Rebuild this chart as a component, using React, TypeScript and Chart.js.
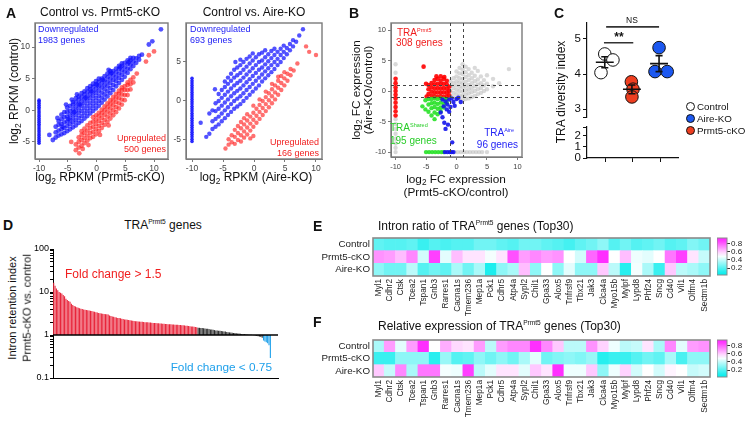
import React, { useEffect, useRef } from "react";
import { Chart, registerables } from "chart.js";

Chart.register(...registerables);
const FONT = "'Liberation Sans', Arial, Helvetica, sans-serif";
Chart.defaults.font.family = FONT;
Chart.defaults.color = "#333";

type Cols = [number, number[]][];

// ---------------- Panel A: Control vs. Prmt5-cKO ----------------
const a1DownCols: Cols = [
  [-7.6, [-4.7]],
  [-7.1, [-4.3, -3.5, -2.6]],
  [-6.6, [-4.0, -3.2, -2.3, -1.7]],
  [-6.1, [-3.8, -3.0, -2.2, -1.4, -0.7]],
  [-5.6, [-3.6, -2.8, -1.9, -1.1, -0.3]],
  [-5.1, [-3.3, -2.5, -1.8, -1.0, -0.3, 0.4]],
  [-4.6, [-3.0, -2.2, -1.5, -0.8, -0.1, 0.7]],
  [-4.1, [-2.7, -1.9, -1.2, -0.5, 0.2, 0.9, 1.3]],
  [-3.6, [-2.4, -1.6, -0.8, -0.1, 0.6, 1.3, 1.9]],
  [-3.1, [-2.0, -1.2, -0.4, 0.3, 1.0, 1.7, 2.2]],
  [-2.6, [-1.7, -0.9, -0.1, 0.7, 1.4, 2.1, 2.7]],
  [-2.1, [-1.3, -0.5, 0.3, 1.1, 1.8, 2.5, 3.0]],
  [-1.6, [-0.9, -0.1, 0.7, 1.5, 2.2, 2.9, 3.5]],
  [-1.1, [-0.5, 0.3, 1.1, 1.9, 2.6, 3.3, 3.8]],
  [-0.6, [-0.1, 0.7, 1.5, 2.3, 3.0, 3.7, 4.2]],
  [-0.1, [0.3, 1.1, 1.9, 2.7, 3.4, 4.1, 4.6]],
  [0.4, [0.7, 1.5, 2.3, 3.1, 3.8, 4.5, 5.0]],
  [0.9, [1.2, 2.0, 2.8, 3.6, 4.3, 5.0]],
  [1.4, [1.7, 2.5, 3.3, 4.0, 4.7, 5.4]],
  [1.9, [2.2, 3.0, 3.8, 4.5, 5.2, 5.8]],
  [2.4, [2.7, 3.5, 4.3, 5.0, 5.7, 6.2]],
  [2.9, [3.2, 4.0, 4.8, 5.5, 6.2]],
  [3.4, [3.8, 4.6, 5.3, 6.0, 6.6]],
  [3.9, [4.3, 5.1, 5.8, 6.5, 7.0]],
  [4.4, [4.8, 5.6, 6.3, 7.0, 7.4]],
  [4.9, [5.3, 6.1, 6.8, 7.5]],
  [5.4, [5.9, 6.6, 7.3, 7.9]],
  [5.9, [6.5, 7.2, 7.9, 8.3]],
  [6.4, [7.0, 7.7, 8.3]],
  [6.9, [7.5, 8.2]],
  [7.4, [8.0, 8.6]],
];
const a1DownExtra: number[][] = [
  [-8.2, -3.9], [-6.8, -1.2], [-5.3, 0.9], [-4.3, 1.7], [-3.4, 2.5], [2.1, 6.4],
  [-5.9, -2.6], [-4.9, -1.4], [-3.9, -0.3], [-2.9, 0.9], [-1.9, 2.0], [-0.9, 3.0],
  [0.1, 4.0], [1.1, 4.8], [2.6, 5.9], [4.1, 6.8], [5.6, 7.6],
  [7.9, 8.8], [9.1, 10.4], [9.7, 10.9], [11.2, 12.8],
];
const a1UpCols: Cols = [
  [-3.6, [-6.3, -5.4]],
  [-3.1, [-5.9, -5.0, -4.3]],
  [-2.6, [-5.6, -4.7, -3.9, -3.3]],
  [-2.1, [-5.2, -4.4, -3.6, -2.9]],
  [-1.6, [-4.8, -4.0, -3.2, -2.4]],
  [-1.1, [-4.4, -3.6, -2.8, -2.0]],
  [-0.6, [-4.2, -3.4, -2.6, -1.8, -1.1]],
  [-0.1, [-3.8, -3.0, -2.2, -1.5, -0.8]],
  [0.4, [-3.3, -2.5, -1.7, -1.0, -0.4]],
  [0.9, [-2.8, -2.0, -1.2, -0.5, 0.1]],
  [1.4, [-2.3, -1.5, -0.7, 0.0, 0.6]],
  [1.9, [-1.8, -1.0, -0.2, 0.5, 1.1]],
  [2.4, [-1.3, -0.5, 0.3, 1.0, 1.6]],
  [2.9, [-0.8, 0.0, 0.8, 1.5, 2.1]],
  [3.4, [-0.3, 0.5, 1.3, 2.0, 2.6]],
  [3.9, [0.3, 1.1, 1.9, 2.6, 3.1]],
  [4.4, [0.9, 1.7, 2.5, 3.2, 3.6]],
  [4.9, [1.6, 2.4, 3.2, 3.8]],
  [5.4, [2.4, 3.2, 4.0, 4.4]],
  [5.9, [3.3, 4.1, 4.8]],
  [6.4, [4.4, 5.2]],
];
const a1UpExtra: number[][] = [
  [-4.4, -5.0], [-3.0, -6.8], [-2.4, -6.1], [-1.4, -5.5], [0.6, -3.9], [2.1, -2.4],
  [7.0, 5.8], [8.6, 7.7], [9.1, 8.7], [10.0, 9.3],
];
const a1Strip: number[] = [
  -5.2, -4.9, -4.6, -4.3, -4.0, -3.7, -3.4, -3.1, -2.8, -2.5, -2.2, -1.9,
  -1.6, -1.3, -1.0, -0.7, -0.4, -0.1, 0.2, 0.5, 0.8, 1.1, 1.4, 1.6,
];

// ---------------- Panel A: Control vs. Aire-KO ----------------
const a2DownCols: Cols = [
  [-7.7, [-4.6]],
  [-7.2, [-4.2, -1.6]],
  [-6.7, [-3.6, -2.6, -1.2]],
  [-6.2, [-3.3, -2.3, -1.3, -0.3]],
  [-5.7, [-3.0, -2.0, -1.0, 0.0, 0.9]],
  [-5.2, [-2.6, -1.6, -0.6, 0.4, 1.4]],
  [-4.7, [-2.2, -1.2, -0.2, 0.8, 1.8, 2.5]],
  [-4.2, [-1.8, -0.8, 0.2, 1.2, 2.2, 3.0]],
  [-3.7, [-1.4, -0.4, 0.6, 1.6, 2.6, 3.5]],
  [-3.2, [-1.0, 0.0, 1.0, 2.0, 3.0, 4.0]],
  [-2.7, [-0.7, 0.3, 1.3, 2.3, 3.3, 4.3]],
  [-2.2, [-0.4, 0.6, 1.6, 2.6, 3.6, 4.6, 5.3]],
  [-1.7, [0.0, 1.0, 2.0, 3.0, 4.0, 5.0]],
  [-1.2, [0.4, 1.4, 2.4, 3.4, 4.4, 5.4]],
  [-0.7, [0.8, 1.8, 2.8, 3.8, 4.8, 5.7]],
  [-0.2, [1.2, 2.2, 3.2, 4.2, 5.2, 6.1]],
  [0.3, [1.6, 2.6, 3.6, 4.6, 5.6]],
  [0.8, [2.0, 3.0, 4.0, 5.0, 6.0]],
  [1.3, [2.5, 3.4, 4.3, 5.2, 6.2]],
  [1.8, [2.9, 3.8, 4.7, 5.6, 6.5]],
  [2.3, [3.3, 4.2, 5.1, 6.0]],
  [2.8, [3.7, 4.6, 5.5, 6.4]],
  [3.3, [4.1, 5.0, 5.9, 6.7]],
  [3.8, [4.6, 5.4, 6.3]],
  [4.3, [5.0, 5.9, 6.7]],
  [4.8, [5.5, 6.3, 7.1]],
  [5.3, [6.0, 6.8]],
  [5.8, [6.5, 7.3]],
  [6.3, [7.0, 7.8]],
  [6.8, [7.6]],
];
const a2DownExtra: number[][] = [
  [7.9, 9.2], [7.3, 8.4], [-8.6, -2.8], [-6.3, 1.5], [-3.0, 5.0],
];
const a2UpCols: Cols = [
  [-4.6, [-6.1]],
  [-4.1, [-5.6, -4.9]],
  [-3.6, [-5.3, -4.4]],
  [-3.1, [-5.5, -4.6, -3.7]],
  [-2.6, [-5.0, -4.1, -3.2]],
  [-2.1, [-5.2, -4.4, -3.5, -2.7]],
  [-1.6, [-4.7, -3.9, -3.0, -2.2]],
  [-1.1, [-4.3, -3.4, -2.5, -1.7]],
  [-0.6, [-4.8, -3.8, -2.9, -2.0]],
  [-0.1, [-4.5, -3.3, -2.4, -1.5, -0.6]],
  [0.4, [-2.8, -1.9, -1.0]],
  [0.9, [-2.3, -1.4, -0.5, 0.2]],
  [1.4, [-1.8, -0.9, 0.0]],
  [1.9, [-1.3, -0.4, 0.5, 1.2]],
  [2.4, [-0.8, 0.1, 1.0]],
  [2.9, [-0.3, 0.6, 1.5, 2.2]],
  [3.4, [0.2, 1.1, 2.0]],
  [3.9, [0.8, 1.7, 2.6, 3.1]],
  [4.4, [1.4, 2.3, 3.2]],
  [4.9, [2.0, 2.9, 3.7]],
  [5.4, [2.6, 3.5]],
  [5.9, [3.3, 4.1]],
  [6.4, [3.9]],
];
const a2UpExtra: number[][] = [[8.4, 7.0], [8.9, 6.3], [10.0, 5.9], [7.0, 4.8]];
const a2Strip: number[] = [
  -5.2, -4.9, -4.6, -4.3, -4.0, -3.7, -3.4, -3.1, -2.8, -2.5, -2.2, -1.9, -1.6, -1.3,
  -1.0, -0.7, -0.4, -0.1, 0.2, 0.5, 0.8, 1.1, 1.4, 1.7, 2.0, 2.3, 2.6, 2.9,
];

// ---------------- Panel B ----------------
const bGrayCols: Cols = [
  [-1.0, [-0.8, 0.0, 0.8, 1.6]],
  [-0.5, [-1.0, -0.3, 0.5, 1.3, 2.1]],
  [0.0, [-1.2, -0.5, 0.2, 0.9, 1.6, 2.4, 3.2]],
  [0.5, [-1.4, -0.7, 0.0, 0.7, 1.4, 2.1, 2.9, 3.8]],
  [1.0, [-1.5, -0.8, -0.1, 0.6, 1.3, 2.0, 2.8, 3.5, 4.4]],
  [1.5, [-1.3, -0.6, 0.1, 0.8, 1.5, 2.3, 3.1, 4.0]],
  [2.0, [-1.2, -0.4, 0.3, 1.0, 1.8, 2.6, 3.6]],
  [2.5, [-1.0, -0.2, 0.5, 1.3, 2.1, 3.0]],
  [3.0, [-0.8, 0.0, 0.8, 1.6, 2.5, 3.8]],
  [3.5, [-0.5, 0.3, 1.1, 1.9, 3.3]],
  [4.0, [-0.3, 0.5, 1.3, 2.4]],
  [4.5, [0.0, 0.9, 1.8]],
  [5.0, [0.3, 1.2, 2.6]],
  [6.0, [0.8, 2.0]],
  [7.0, [1.3]],
  [8.6, [3.6]],
];
const bGrayStrip: number[] = [4.4, 3.0, -4.6, -5.4, -6.2, -7.0, -7.8, -8.6, -9.3, -10];
const bGrayFloor: number[] = [-0.3, 0.2, 0.7, 1.2, 1.7, 2.2, 2.7, 3.2, 3.7, 4.2, 5.0];
const bRedCols: Cols = [
  [-4.6, [-0.5, 0.3, 1.0]],
  [-4.1, [-0.8, -0.1, 0.6, 1.3]],
  [-3.6, [-1.0, -0.3, 0.4, 1.1, 1.8]],
  [-3.1, [-0.9, -0.2, 0.5, 1.2, 2.0]],
  [-2.6, [-1.0, -0.3, 0.4, 1.1, 1.7, 2.4]],
  [-2.1, [-0.9, -0.2, 0.5, 1.2, 2.0]],
  [-1.6, [-1.0, -0.3, 0.4, 1.1, 1.7]],
  [-1.2, [-0.7, 0.0, 0.7]],
];
const bRedExtra: number[][] = [[-5.4, 4.0], [-5.0, 1.2], [-3.3, 2.4], [-2.0, 2.3], [-4.9, -0.9]];
const bRedStrip: number[] = [2.0, 1.3, 0.6, 0.0, -0.6, -1.2, -1.9, -2.6, -3.3, -4.0];
const bGreenCols: Cols = [
  [-5.6, [-2.5]],
  [-5.1, [-1.5, -3.0]],
  [-4.6, [-1.3, -2.2, -3.4]],
  [-4.1, [-1.3, -2.0, -2.8, -4.0]],
  [-3.6, [-1.2, -1.9, -2.6, -3.5, -4.6]],
  [-3.1, [-1.3, -2.1, -2.9, -3.8]],
  [-2.6, [-1.2, -1.9, -2.7, -3.3]],
  [-2.1, [-1.3, -2.1, -2.7]],
  [-1.6, [-1.3, -1.9]],
];
const bGreenFloor: number[] = [-5.0, -4.5, -4.0, -3.5, -3.0, -2.5, -2.1];
const bBluePts: number[][] = [
  [-2.3, -1.4], [-1.8, -1.7], [-1.5, -2.2], [-1.2, -1.4], [-0.8, -1.2], [-0.5, -1.8],
  [0.0, -1.3], [0.3, -1.1], [0.7, -1.8], [-1.0, -2.6], [-1.6, -3.0], [-2.1, -2.5],
  [-2.6, -3.5], [-2.3, -4.3], [-2.0, -5.2], [-1.8, -6.2], [-1.4, -5.5], [-0.7, -8.4],
  [-1.2, -3.4], [-0.3, -2.4],
];
const bBlueFloor: number[] = [-1.9, -1.5, -1.1, -0.8, -0.5];
const bVLines = [-1, 1];
const bHLines = [-1, 1];

// ---------------- Panel C ----------------
const cNames = ["Control", "Prmt5-cKO", "Aire-KO"];
const cLegendOrder = [0, 2, 1];
const cCenters = [1, 2, 3];
const cValues = [
  [4.57, 4.4, 4.04],
  [3.78, 3.57, 3.35],
  [4.75, 4.07, 4.07],
];
const cJitterX = [
  [1.0, 1.3, 0.86],
  [1.98, 2.04, 2.0],
  [3.0, 2.85, 3.3],
];
const cFills = ["#ffffff", "rgb(238,62,32)", "rgb(28,88,240)"];
const cSig = [
  { x1: 0.97, x2: 2.05, y: 4.89 },
  { x1: 1.05, x2: 3.0, y: 5.34 },
];

// ---------------- Panel D ----------------
const dVals: number[] = [
  16.5, 14, 12, 11, 10, 9.6, 9.2, 8.5, 8, 7,
  6.5, 6.2, 5.9, 5.3, 5, 4.7, 4.6, 4.4, 4.3, 4.2,
  4.1, 4.0, 3.9, 3.85, 3.8, 3.75, 3.7, 3.65, 3.6, 3.5,
  3.45, 3.4, 3.35, 3.25, 3.2, 3.15, 3.1, 3.08, 3.05, 3.02,
  3.0, 2.85, 2.75, 2.7, 2.65, 2.6, 2.55, 2.5, 2.48, 2.45,
  2.4, 2.35, 2.3, 2.28, 2.25, 2.22, 2.2, 2.18, 2.15, 2.12,
  2.1, 2.08, 2.06, 2.05, 2.04, 2.02, 2.0, 1.99, 1.98, 1.97,
  1.96, 1.94, 1.92, 1.91, 1.9, 1.89, 1.88, 1.87, 1.85, 1.84,
  1.83, 1.82, 1.81, 1.8, 1.79, 1.78, 1.77, 1.76, 1.75, 1.74,
  1.73, 1.72, 1.71, 1.7, 1.69, 1.68, 1.67, 1.65, 1.64, 1.62,
  1.6, 1.58, 1.57, 1.55, 1.53, 1.51,
  1.48, 1.47, 1.46, 1.45, 1.43, 1.42, 1.4, 1.39, 1.37, 1.35,
  1.34, 1.32, 1.3, 1.28, 1.27, 1.26, 1.25, 1.24, 1.22, 1.21,
  1.2, 1.18, 1.16, 1.15, 1.14, 1.13, 1.12, 1.11, 1.1, 1.09,
  1.08, 1.07, 1.06, 1.05, 1.05, 1.04, 1.03, 1.02, 1.02, 1.01,
  1.0, 0.99, 0.97, 0.95, 0.93, 0.92, 0.9, 0.86,
  0.74, 0.71, 0.68, 0.64, 0.58, 0.29,
];
const dBase = 1;
const dUp = 1.5;
const dDown = 0.75;

// ---------------- Panels E / F ----------------
const genes = [
  "Myl1", "Cdhr2", "Ctsk", "Tcea2", "Tspan1", "Gnb3", "Rarres1", "Cacna1s", "Tmem236", "Mep1a",
  "Pck1", "Cdhr5", "Atp4a", "Sypl2", "Chil1", "Gpa33", "Alox5", "Tnfrsf9", "Tbx21", "Jak3",
  "Clca4a", "Myo15b", "Mylpf", "Lypd8", "Phf24", "Sncg", "Cd40", "Vil1", "Olfm4", "Sectm1b",
];
const rowNames = ["Control", "Prmt5-cKO", "Aire-KO"];
const eControl = [0.22, 0.2, 0.2, 0.22, 0.15, 0.2, 0.18, 0.2, 0.2, 0.25, 0.25, 0.22, 0.2, 0.25, 0.25, 0.22, 0.2, 0.17, 0.22, 0.25, 0.3, 0.2, 0.25, 0.2, 0.22, 0.25, 0.2, 0.22, 0.28, 0.25];
const ePrmt5 = [0.7, 0.68, 0.62, 0.72, 0.42, 0.85, 0.45, 0.62, 0.55, 0.55, 0.48, 0.55, 0.82, 0.68, 0.72, 0.68, 0.7, 0.5, 0.42, 0.78, 0.88, 0.5, 0.62, 0.47, 0.45, 0.5, 0.75, 0.85, 0.55, 0.4];
const eAire = [0.3, 0.25, 0.25, 0.38, 0.2, 0.25, 0.22, 0.35, 0.25, 0.35, 0.1, 0.3, 0.35, 0.62, 0.3, 0.5, 0.3, 0.45, 0.3, 0.3, 0.6, 0.38, 0.12, 0.48, 0.35, 0.15, 0.6, 0.38, 0.35, 0.3];
const fControl = [0.35, 0.68, 0.45, 0.68, 0.88, 0.5, 0.65, 0.57, 0.55, 0.68, 0.38, 0.68, 0.72, 0.72, 0.88, 0.72, 0.6, 0.38, 0.38, 0.7, 0.58, 0.47, 0.38, 0.4, 0.55, 0.35, 0.72, 0.45, 0.68, 0.7];
const fPrmt5 = [0.15, 0.15, 0.3, 0.3, 0.3, 0.12, 0.32, 0.2, 0.22, 0.3, 0.25, 0.3, 0.25, 0.35, 0.45, 0.25, 0.28, 0.3, 0.28, 0.32, 0.12, 0.15, 0.15, 0.2, 0.25, 0.22, 0.35, 0.18, 0.3, 0.3];
const fAire = [0.6, 0.4, 0.72, 0.35, 0.75, 0.75, 0.48, 0.47, 0.85, 0.38, 0.45, 0.55, 0.55, 0.45, 0.6, 0.55, 0.88, 0.47, 0.47, 0.6, 0.3, 0.47, 0.58, 0.42, 0.5, 0.42, 0.52, 0.5, 0.4, 0.42];
const cbRange = [0.03, 0.93];
const cbTicks = [0.2, 0.4, 0.6, 0.8];

// ---------------- helpers ----------------
const fromCols = (cols: Cols) => cols.flatMap(([x, ys]) => ys.map((y) => ({ x, y })));
const fromPairs = (p: number[][]) => p.map(([x, y]) => ({ x, y }));
const atX = (x: number, ys: number[]) => ys.map((y) => ({ x, y }));
const atY = (y: number, xs: number[]) => xs.map((x) => ({ x, y }));
const fixedTicks = (vals: number[]) => (s: any) => {
  s.ticks = vals.map((v) => ({ value: v }));
};

const CYAN = [0, 236, 236];
const WHITE = [255, 255, 255];
const MAG = [255, 36, 255];
const mix = (a: number[], b: number[], t: number) => a.map((v, i) => Math.round(v + (b[i] - v) * t));
function heatColor(v: number) {
  let c: number[];
  if (v <= 0.5) c = mix(CYAN, WHITE, Math.max(0, Math.min(1, (v - 0.05) / 0.45)));
  else c = mix(WHITE, MAG, Math.max(0, Math.min(1, (v - 0.5) / 0.4)));
  return `rgb(${c[0]},${c[1]},${c[2]})`;
}

const frame = (color: string, width: number) => ({
  id: "frame",
  afterDatasetsDraw(chart: any) {
    const { ctx, chartArea: a } = chart;
    ctx.save();
    ctx.strokeStyle = color;
    ctx.lineWidth = width;
    ctx.strokeRect(a.left, a.top, a.right - a.left, a.bottom - a.top);
    ctx.restore();
  },
});

const dots = (data: any[], color: string, r: number, order: number) => ({
  data,
  pointRadius: r,
  pointBackgroundColor: color,
  pointBorderWidth: 0,
  pointBorderColor: "rgba(0,0,0,0)",
  showLine: false,
  order,
});

const seg = (pts: { x: number; y: number }[], color: string, w: number) => ({
  data: pts,
  showLine: true,
  borderColor: color,
  borderWidth: w,
  pointRadius: 0,
  order: 0,
});

const baseOpts = () => ({
  events: [],
  plugins: { legend: { display: false }, tooltip: { enabled: false } },
});

function scatterCfg(
  datasets: any[],
  xr: number[],
  yr: number[],
  xt: number[],
  yt: number[],
  o: { yw: number; xh: number; font: number; frameColor: string; extra?: any[] }
) {
  const ax = (horizontal: boolean, r: number[], t: number[]) => ({
    type: "linear",
    min: r[0],
    max: r[1],
    afterBuildTicks: fixedTicks(t),
    afterFit: (s: any) => {
      if (horizontal) s.height = o.xh;
      else s.width = o.yw;
    },
    grid: { drawOnChartArea: false, drawTicks: true, tickLength: 3, color: o.frameColor },
    border: { display: true, color: o.frameColor, width: 1 },
    ticks: { font: { size: o.font }, color: "#444", padding: 2, maxRotation: 0, autoSkip: false },
  });
  return {
    type: "scatter",
    data: { datasets },
    options: { ...baseOpts(), scales: { x: ax(true, xr, xt), y: ax(false, yr, yt) } },
    plugins: [frame(o.frameColor, 1.4), ...(o.extra || [])],
  };
}

type Box = { L: number; T: number; R: number; B: number; yw?: number; xh?: number; pl?: number; pt?: number; pr?: number; pb?: number; yRight?: boolean };

function ChartBox({ box, make }: { box: Box; make: () => any }) {
  const ref = useRef<HTMLCanvasElement>(null);
  const { L, T, R, B, yw = 0, xh = 0, pl = 0, pt = 0, pr = 0, pb = 0, yRight = false } = box;
  const left = yRight ? L - pl : L - yw - pl;
  const width = R - L + yw + pl + pr;
  const top = T - pt;
  const height = B - T + pt + xh + pb;
  useEffect(() => {
    const cfg = make();
    cfg.options = cfg.options || {};
    cfg.options.responsive = false;
    cfg.options.maintainAspectRatio = false;
    cfg.options.animation = false;
    cfg.options.devicePixelRatio = 1;
    cfg.options.layout = { padding: { left: pl, top: pt, right: pr, bottom: pb } };
    const chart = new Chart(ref.current as HTMLCanvasElement, cfg);
    return () => chart.destroy();
  }, []);
  return <canvas ref={ref} width={width} height={height} style={{ position: "absolute", left, top, width, height }} />;
}

function Txt(props: { x: number; y: number; size?: number; color?: string; align?: "left" | "center" | "right"; rot?: boolean; bold?: boolean; children: React.ReactNode }) {
  const { x, y, size = 10, color = "#111", align = "center", rot = false, bold = false, children } = props;
  const tx = rot || align === "center" ? "-50%" : align === "right" ? "-100%" : "0%";
  return (
    <div
      style={{
        position: "absolute",
        left: x,
        top: y,
        transform: `translate(${tx}, -50%)${rot ? " rotate(-90deg)" : ""}`,
        fontSize: size,
        color,
        fontWeight: bold ? 700 : 400,
        whiteSpace: "nowrap",
        lineHeight: 1.15,
        fontFamily: FONT,
      }}
    >
      {children}
    </div>
  );
}
const Sup = ({ c }: { c: string }) => <span style={{ fontSize: "0.55em", position: "relative", top: "-0.75em" }}>{c}</span>;
const Sub = ({ c }: { c: string }) => <span style={{ fontSize: "0.7em", position: "relative", top: "0.3em" }}>{c}</span>;

// ---------------- chart factories ----------------
const BLUE_A = "rgba(15,15,255,0.72)";
const RED_A = "rgba(255,25,25,0.62)";

const makeA1 = () =>
  scatterCfg(
    [
      dots(atX(-10, a1Strip), "rgba(20,20,255,0.9)", 1.8, 2),
      dots([...fromCols(a1DownCols), ...fromPairs(a1DownExtra)], BLUE_A, 2.4, 2),
      dots([...fromCols(a1UpCols), ...fromPairs(a1UpExtra)], RED_A, 2.4, 1),
    ],
    [-10.7, 12.43],
    [-7.7, 13.8],
    [-10, -5, 0, 5, 10],
    [-5, 0, 5, 10],
    { yw: 20, xh: 14, font: 8.5, frameColor: "#7a7a7a" }
  );

const makeA2 = () =>
  scatterCfg(
    [
      dots(atX(-10, a2Strip), "rgba(20,20,255,0.9)", 1.8, 2),
      dots([...fromCols(a2DownCols), ...fromPairs(a2DownExtra)], BLUE_A, 2.2, 2),
      dots([...fromCols(a2UpCols), ...fromPairs(a2UpExtra)], RED_A, 2.2, 1),
    ],
    [-10.97, 10.97],
    [-7.44, 10],
    [-10, -5, 0, 5, 10],
    [-5, 0, 5],
    { yw: 16, xh: 14, font: 8.5, frameColor: "#7a7a7a" }
  );

const bDash = {
  id: "bdash",
  afterDatasetsDraw(chart: any) {
    const { ctx, chartArea: a, scales } = chart;
    ctx.save();
    ctx.setLineDash([3, 3]);
    ctx.strokeStyle = "#444";
    ctx.lineWidth = 1;
    bVLines.forEach((v) => {
      const px = Math.round(scales.x.getPixelForValue(v)) + 0.5;
      ctx.beginPath();
      ctx.moveTo(px, a.top);
      ctx.lineTo(px, a.bottom);
      ctx.stroke();
    });
    bHLines.forEach((v) => {
      const py = Math.round(scales.y.getPixelForValue(v)) + 0.5;
      ctx.beginPath();
      ctx.moveTo(a.left, py);
      ctx.lineTo(a.right, py);
      ctx.stroke();
    });
    ctx.restore();
  },
};

const makeB = () =>
  scatterCfg(
    [
      dots([...fromCols(bGrayCols), ...atX(-10, bGrayStrip), ...atY(-10, bGrayFloor)], "rgba(185,185,185,0.55)", 2.2, 5),
      dots([...fromCols(bRedCols), ...fromPairs(bRedExtra), ...atX(-10, bRedStrip)], "rgba(255,0,0,0.9)", 2.3, 4),
      dots([...fromCols(bGreenCols), ...atY(-10, bGreenFloor)], "rgba(40,225,40,0.9)", 2.2, 3),
      dots([...fromPairs(bBluePts), ...atY(-10, bBlueFloor)], "rgba(20,20,235,0.9)", 2.2, 2),
    ],
    [-10.75, 10.75],
    [-10.8, 11.15],
    [-10, -5, 0, 5, 10],
    [-10, -5, 0, 5, 10],
    { yw: 16, xh: 14, font: 7.5, frameColor: "#7a7a7a", extra: [bDash] }
  );

const cX = [0.345, 3.65];
const cAxisY = (min: number, max: number, t: number[], w: number) => ({
  type: "linear",
  min,
  max,
  afterBuildTicks: fixedTicks(t),
  afterFit: (s: any) => {
    s.width = w;
  },
  grid: { drawOnChartArea: false, drawTicks: true, tickLength: 4, color: "#111" },
  border: { display: true, color: "#111", width: 1.2 },
  ticks: {
    font: { size: 11.5 },
    color: "#111",
    padding: 2,
    autoSkip: false,
    callback: (v: number) => (Number.isInteger(v) ? String(v) : ""),
  },
});

const mean = (a: number[]) => a.reduce((s, v) => s + v, 0) / a.length;
const sem = (a: number[]) => {
  const m = mean(a);
  return Math.sqrt(a.reduce((s, v) => s + (v - m) ** 2, 0) / (a.length - 1)) / Math.sqrt(a.length);
};

const makeCTop = () => {
  const summary: any[] = [];
  cValues.forEach((vals, g) => {
    const m = mean(vals);
    const e = sem(vals);
    const cx = cCenters[g];
    summary.push(seg([{ x: cx - 0.33, y: m }, { x: cx + 0.33, y: m }], "#111", 1.6));
    summary.push(seg([{ x: cx, y: m - e }, { x: cx, y: m + e }], "#111", 1.6));
    summary.push(seg([{ x: cx - 0.13, y: m + e }, { x: cx + 0.13, y: m + e }], "#111", 1.6));
    summary.push(seg([{ x: cx - 0.13, y: m - e }, { x: cx + 0.13, y: m - e }], "#111", 1.6));
  });
  cSig.forEach((s) => summary.push(seg([{ x: s.x1, y: s.y }, { x: s.x2, y: s.y }], "#333", 1.6)));
  const pts = cValues.map((vals, g) => ({
    data: vals.map((y, i) => ({ x: cJitterX[g][i], y })),
    pointRadius: 6.3,
    pointBackgroundColor: cFills[g],
    pointBorderColor: "#111",
    pointBorderWidth: 1,
    showLine: false,
    order: 1,
    clip: false,
  }));
  return {
    type: "scatter",
    data: { datasets: [...summary, ...pts] },
    options: {
      ...baseOpts(),
      scales: {
        x: { type: "linear", min: cX[0], max: cX[1], display: false },
        y: cAxisY(2.78, 5.45, [2.78, 3, 4, 5], 18),
      },
    },
  };
};

const makeCBottom = () => ({
  type: "scatter",
  data: { datasets: [] },
  options: {
    ...baseOpts(),
    scales: {
      x: {
        type: "linear",
        min: cX[0],
        max: cX[1],
        afterBuildTicks: fixedTicks(cCenters),
        afterFit: (s: any) => {
          s.height = 8;
        },
        grid: { drawOnChartArea: false, drawTicks: true, tickLength: 4, color: "#111" },
        border: { display: true, color: "#111", width: 1.2 },
        ticks: { callback: () => "", padding: 0 },
      },
      y: cAxisY(0, 2.78, [0, 1, 2, 2.78], 18),
    },
  },
});

const logTicks: number[] = [];
[0.1, 1, 10].forEach((p) => [1, 2, 3, 4, 5, 6, 7, 8, 9].forEach((m) => logTicks.push(m * p)));
logTicks.push(100);
const isPow10 = (v: number) => Math.abs(Math.log10(v) - Math.round(Math.log10(v))) < 1e-6;

const dBaseline = {
  id: "dbase",
  afterDatasetsDraw(chart: any) {
    const { ctx, chartArea: a, scales } = chart;
    const py = scales.y.getPixelForValue(dBase);
    ctx.save();
    ctx.strokeStyle = "#000";
    ctx.lineWidth = 1.4;
    ctx.beginPath();
    ctx.moveTo(a.left, py);
    ctx.lineTo(a.right, py);
    ctx.stroke();
    ctx.restore();
  },
};

const dColor = (v: number) => (v >= dUp ? "rgb(232,36,58)" : v <= dDown ? "rgb(28,160,235)" : "rgb(45,45,45)");

const makeD = () => ({
  type: "bar",
  data: {
    datasets: [
      {
        data: dVals.map((v, i) => ({ x: i, y: [dBase, v] })),
        backgroundColor: dVals.map(dColor),
        barPercentage: 0.8,
        categoryPercentage: 1,
        borderWidth: 0,
        inflateAmount: 0,
      },
    ],
  },
  options: {
    ...baseOpts(),
    scales: {
      x: {
        type: "linear",
        offset: false,
        bounds: "data",
        min: -0.5,
        max: dVals.length + 4.6,
        ticks: { display: false },
        grid: { display: false, drawTicks: false, offset: false },
        border: { display: true, color: "#000", width: 1 },
        afterFit: (s: any) => {
          s.height = 2;
        },
      },
      y: {
        type: "logarithmic",
        min: 0.1,
        max: 100,
        afterBuildTicks: fixedTicks(logTicks),
        afterFit: (s: any) => {
          s.width = 30;
        },
        grid: { drawOnChartArea: false, drawTicks: true, tickLength: 3, color: "#000" },
        border: { display: true, color: "#000", width: 1 },
        ticks: {
          font: { size: 9 },
          color: "#000",
          padding: 1,
          autoSkip: false,
          callback: (v: number) => (isPow10(v) ? String(Number(v.toPrecision(3))) : ""),
        },
      },
    },
  },
  plugins: [dBaseline],
});

const makeHeat = (rows: number[][], xh: number) => () => {
  const bottomUp = [...rows].reverse();
  return {
    type: "bar",
    data: {
      labels: genes,
      datasets: bottomUp.map((vals) => ({
        data: vals.map(() => 1),
        backgroundColor: vals.map(heatColor),
        barPercentage: 1,
        categoryPercentage: 1,
        borderWidth: 0,
      })),
    },
    options: {
      ...baseOpts(),
      scales: {
        x: {
          stacked: true,
          grid: { display: false, drawTicks: false },
          border: { display: false },
          afterFit: (s: any) => {
            s.height = xh;
          },
          ticks: { minRotation: 90, maxRotation: 90, autoSkip: false, font: { size: 8.3 }, color: "#222", padding: 3 },
        },
        y: {
          stacked: true,
          min: 0,
          max: rows.length,
          afterBuildTicks: fixedTicks(rows.map((_, i) => i + 0.5)),
          afterFit: (s: any) => {
            s.width = 62;
          },
          grid: { display: false, drawTicks: false },
          border: { display: false },
          ticks: {
            font: { size: 9.8 },
            color: "#222",
            padding: 3,
            autoSkip: false,
            callback: (v: number) => rowNames[rows.length - 1 - Math.floor(v)],
          },
        },
      },
    },
    plugins: [frame("#8a8a8a", 1.6)],
  };
};

const makeColorbar = () => ({
  type: "bar",
  data: {
    labels: [""],
    datasets: [
      {
        data: [[cbRange[0], cbRange[1]]],
        backgroundColor: (ctx: any) => {
          const ch = ctx.chart;
          if (!ch.chartArea) return "#fff";
          const y = ch.scales.y;
          const g = ch.ctx.createLinearGradient(0, y.getPixelForValue(cbRange[0]), 0, y.getPixelForValue(cbRange[1]));
          for (let k = 0; k <= 10; k++) {
            g.addColorStop(k / 10, heatColor(cbRange[0] + ((cbRange[1] - cbRange[0]) * k) / 10));
          }
          return g;
        },
        barPercentage: 1,
        categoryPercentage: 1,
        borderWidth: 0,
      },
    ],
  },
  options: {
    ...baseOpts(),
    scales: {
      x: { display: false },
      y: {
        position: "right",
        min: cbRange[0],
        max: cbRange[1],
        afterBuildTicks: fixedTicks(cbTicks),
        afterFit: (s: any) => {
          s.width = 24;
        },
        grid: { drawOnChartArea: false, drawTicks: true, tickLength: 3, color: "#333" },
        border: { display: false },
        ticks: { font: { size: 8 }, color: "#222", padding: 1, autoSkip: false, callback: (v: number) => v.toFixed(1) },
      },
    },
  },
  plugins: [frame("#8a8a8a", 1)],
});

// ---------------- App ----------------
const RED_T = "rgb(240,30,30)";
const BLUE_T = "rgb(35,35,245)";
const GREEN_T = "rgb(40,205,40)";

export default function App() {
  return (
    <div style={{ position: "fixed", left: 0, top: 0, width: 751, height: 428, background: "#fff", overflow: "hidden", fontFamily: FONT }}>
      <ChartBox box={{ L: 35, T: 23, R: 168, B: 159, yw: 20, xh: 14, pt: 9, pr: 4 }} make={makeA1} />
      <ChartBox box={{ L: 186, T: 23, R: 322, B: 159, yw: 16, xh: 14, pt: 9, pr: 4 }} make={makeA2} />
      <ChartBox box={{ L: 391, T: 23, R: 522, B: 157, yw: 16, xh: 14, pt: 9, pr: 6 }} make={makeB} />
      <ChartBox box={{ L: 587, T: 23, R: 678, B: 117, yw: 18, pt: 10, pr: 6, pb: 10 }} make={makeCTop} />
      <ChartBox box={{ L: 587, T: 127, R: 678, B: 158, yw: 18, xh: 8, pt: 10, pr: 6, pb: 4 }} make={makeCBottom} />
      <ChartBox box={{ L: 53, T: 249, R: 278, B: 378, yw: 30, xh: 2, pt: 10, pr: 4, pb: 9 }} make={makeD} />
      <ChartBox box={{ L: 373, T: 238, R: 710, B: 276, yw: 62, xh: 44, pt: 10, pr: 10 }} make={makeHeat([eControl, ePrmt5, eAire], 44)} />
      <ChartBox box={{ L: 717, T: 238, R: 727, B: 275, yw: 24, yRight: true, pt: 9, pb: 9 }} make={makeColorbar} />
      <ChartBox box={{ L: 373, T: 340, R: 710, B: 377, yw: 62, xh: 48, pt: 10, pr: 10 }} make={makeHeat([fControl, fPrmt5, fAire], 48)} />
      <ChartBox box={{ L: 717, T: 340, R: 727, B: 377, yw: 24, yRight: true, pt: 9, pb: 9 }} make={makeColorbar} />

      {/* Panel letters */}
      <Txt x={6} y={13} size={14} bold align="left">A</Txt>
      <Txt x={349} y={13} size={14} bold align="left">B</Txt>
      <Txt x={554} y={13} size={14} bold align="left">C</Txt>
      <Txt x={3} y={225} size={14} bold align="left">D</Txt>
      <Txt x={313} y={226} size={14} bold align="left">E</Txt>
      <Txt x={313} y={322} size={14} bold align="left">F</Txt>

      {/* Panel A texts */}
      <Txt x={100} y={13} size={12}>Control vs. Prmt5-cKO</Txt>
      <Txt x={254} y={13} size={12}>Control vs. Aire-KO</Txt>
      <Txt x={15} y={91} size={12} rot>log<Sub c="2" /> RPKM (control)</Txt>
      <Txt x={100} y={178} size={12}>log<Sub c="2" /> RPKM (Prmt5-cKO)</Txt>
      <Txt x={256} y={178} size={12}>log<Sub c="2" /> RPKM (Aire-KO)</Txt>
      <Txt x={38} y={29} size={9} color={BLUE_T} align="left">Downregulated</Txt>
      <Txt x={38} y={40} size={9} color={BLUE_T} align="left">1983 genes</Txt>
      <Txt x={166} y={138} size={9} color={RED_T} align="right">Upregulated</Txt>
      <Txt x={166} y={149} size={9} color={RED_T} align="right">500 genes</Txt>
      <Txt x={190} y={29} size={9} color={BLUE_T} align="left">Downregulated</Txt>
      <Txt x={190} y={40} size={9} color={BLUE_T} align="left">693 genes</Txt>
      <Txt x={319} y={142} size={9} color={RED_T} align="right">Upregulated</Txt>
      <Txt x={319} y={153} size={9} color={RED_T} align="right">166 genes</Txt>

      {/* Panel B texts */}
      <Txt x={357} y={90} size={11.8} rot>log<Sub c="2" /> FC expression</Txt>
      <Txt x={369} y={90} size={11.8} rot>(Aire-KO/control)</Txt>
      <Txt x={456} y={180} size={11.8}>log<Sub c="2" /> FC expression</Txt>
      <Txt x={456} y={193} size={11.8}>(Prmt5-cKO/control)</Txt>
      <Txt x={397} y={33} size={10} color={RED_T} align="left">TRA<Sup c="Prmt5" /></Txt>
      <Txt x={396} y={43} size={10} color={RED_T} align="left">308 genes</Txt>
      <Txt x={390} y={128} size={10} color={GREEN_T} align="left">TRA<Sup c="Shared" /></Txt>
      <Txt x={390} y={141} size={10} color={GREEN_T} align="left">195 genes</Txt>
      <Txt x={514} y={133} size={10} color={BLUE_T} align="right">TRA<Sup c="Aire" /></Txt>
      <Txt x={518} y={145} size={10} color={BLUE_T} align="right">96 genes</Txt>

      {/* Panel C texts */}
      <Txt x={562} y={92} size={12} rot>TRA diversity index</Txt>
      <Txt x={619} y={38} size={12} bold>**</Txt>
      <Txt x={632} y={21} size={8.5}>NS</Txt>
      {cLegendOrder.map((g, k) => (
        <React.Fragment key={g}>
          <div style={{ position: "absolute", left: 686, top: 102 + k * 12, width: 9, height: 9, borderRadius: "50%", border: "1px solid #111", background: cFills[g], boxSizing: "border-box" }} />
          <Txt x={697} y={107 + k * 12} size={9.8} align="left">{cNames[g]}</Txt>
        </React.Fragment>
      ))}

      {/* Panel D texts */}
      <Txt x={163} y={226} size={12}>TRA<Sup c="Prmt5" /> genes</Txt>
      <Txt x={12} y={308} size={11} rot>Intron retention index</Txt>
      <Txt x={27} y={308} size={11} rot>Prmt5-cKO vs. control</Txt>
      <Txt x={65} y={275} size={12} color={RED_T} align="left">Fold change &gt; 1.5</Txt>
      <Txt x={272} y={368} size={11.8} color="rgb(30,160,235)" align="right">Fold change &lt; 0.75</Txt>

      {/* Panel E / F titles */}
      <Txt x={378} y={227} size={12} align="left">Intron ratio of TRA<Sup c="Prmt5" /> genes (Top30)</Txt>
      <Txt x={378} y={327} size={12} align="left">Relative expression of TRA<Sup c="Prmt5" /> genes (Top30)</Txt>
    </div>
  );
}
